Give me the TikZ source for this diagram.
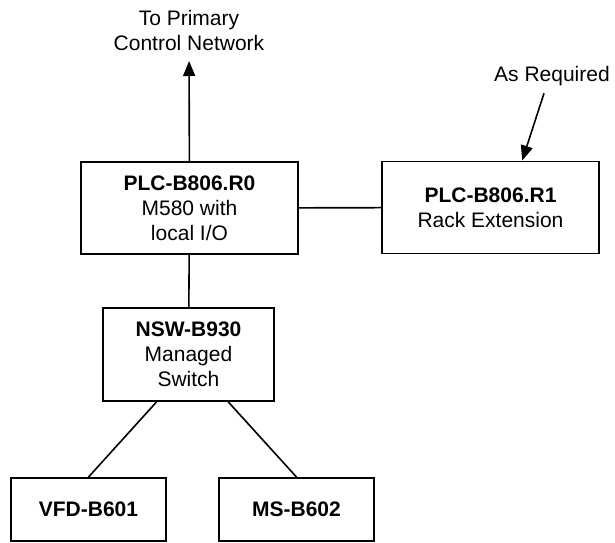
\documentclass[tikz,border=0pt]{standalone}
\usepackage{fontspec}
\setmainfont{Liberation Sans}
\usepackage{tikz}
\usetikzlibrary{arrows.meta}

\begin{document}
\begin{tikzpicture}[x=1pt, y=-1pt,
        every node/.style={font=\fontsize{21}{25}\selectfont, align=center},
        unit/.style={draw, line width=1.9pt, minimum width=217pt, minimum height=92pt, inner sep=0pt},
        field/.style={draw, line width=1.9pt, minimum width=155pt, minimum height=63pt, inner sep=0pt},
        link/.style={line width=1.6pt},
        arr/.style={line width=1.6pt, -{Triangle[length=15pt, width=12pt]}}]

                \useasboundingbox (0,0) rectangle (615,542);

                % Nodes
                \node at (189.5,208) (plcmain) [unit] {\textbf{PLC-B806.R0}\\M580 with\\local I/O};
                \node at (490.5,207.5) (plcext) [unit] {\textbf{PLC-B806.R1}\\Rack Extension};
                \node at (188.5,354.5) (nsw) [unit, minimum width=171pt, minimum height=93pt] {\textbf{NSW-B930}\\Managed\\Switch};
                \node at (88.5,509.5) (vfd) [field] {\textbf{VFD-B601}};
                \node at (296.5,509.5) (ms) [field] {\textbf{MS-B602}};
                \node at (189,61) (net) [anchor=south, inner xsep=0pt, inner ysep=10pt] {To Primary\\Control Network};
                \node at (552,76) (asreq) {As Required};

                % Arrows
                \draw[arr] (plcmain) -- (net);
                \draw[link] (plcmain) -- (plcext);
                \draw[link] (plcmain) -- (nsw);
                \draw[link] (nsw.-124) -- (vfd.north);
                \draw[link] (nsw.-50) -- (ms.north);
                \draw[arr] ([xshift=-8pt, yshift=-4pt]asreq.south) -- (plcext.56);

            \end{tikzpicture}
\end{document}
